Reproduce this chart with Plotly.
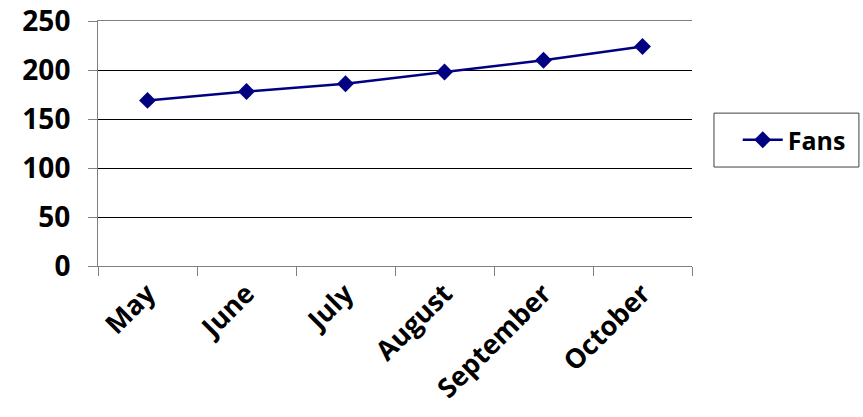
import plotly.graph_objects as go

months = ["May", "June", "July", "August", "September", "October"]
fans = [169, 178, 186, 198, 210, 224]
y_ticks = [0, 50, 100, 150, 200, 250]

FONT = "Open Sans"

fig = go.Figure()
fig.add_trace(go.Scatter(
    x=months, y=fans, name="Fans", mode="lines+markers",
    line=dict(color="#000080", width=2.5),
    marker=dict(symbol="diamond", size=13, color="#000080"),
))

fig.add_shape(
    type="rect", xref="paper", yref="paper",
    x0=1.037, x1=1.281, y0=0.404, y1=0.624,
    line=dict(color="#404040", width=1), fillcolor="rgba(0,0,0,0)",
)

fig.update_layout(
    width=863, height=417,
    margin=dict(l=98, r=171, t=21, b=151),
    paper_bgcolor="white", plot_bgcolor="white",
    font=dict(family=FONT, size=21, color="black"),
    showlegend=True,
    legend=dict(
        x=1.077, y=0.514, xanchor="left", yanchor="middle",
        borderwidth=0, bgcolor="rgba(0,0,0,0)",
        font=dict(family=FONT, size=25, color="black", weight="bold"),
        itemwidth=40,
    ),
    xaxis=dict(
        type="category", tickangle=-45, tickson="boundaries",
        ticks="outside", ticklen=9, tickcolor="#808080",
        showline=True, linecolor="#808080", linewidth=1, mirror=True,
        showgrid=False, automargin=False,
        tickfont=dict(family=FONT, size=27, weight="bold"),
        range=[-0.5, 5.5],
    ),
    yaxis=dict(
        range=[0, 250], tickvals=y_ticks,
        ticks="outside", ticklen=9, tickcolor="#808080",
        showline=True, linecolor="#808080", linewidth=1,
        showgrid=True, gridcolor="#000000", gridwidth=1,
        zeroline=False, automargin=False, ticklabeloverflow="allow",
        tickfont=dict(family=FONT, size=28, weight="bold"),
        ticklabelstandoff=12,
    ),
)

fig.write_html(
    "out.html",
    config={"displayModeBar": False},
    post_script="document.body.style.margin='0';document.body.style.overflow='hidden';",
)
